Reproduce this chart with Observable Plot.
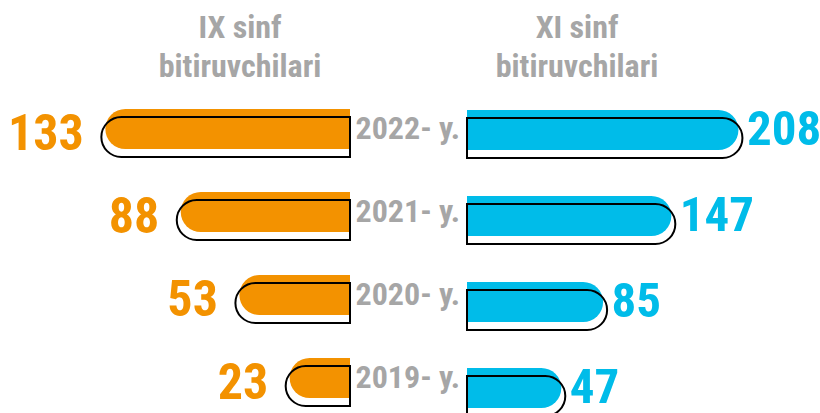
<!DOCTYPE html>
<html><head><meta charset="utf-8">
<script src="https://cdn.jsdelivr.net/npm/d3@7"></script>
<script src="https://cdn.jsdelivr.net/npm/@observablehq/plot@0.6"></script>
<style>
html,body{margin:0;padding:0;background:#fff;}
#chart{position:relative;width:820px;height:413px;overflow:hidden;font-family:"Roboto Condensed","Liberation Sans Narrow","Arial Narrow","DejaVu Sans Condensed",Roboto,sans-serif;font-weight:bold;}
.hdr{position:absolute;top:8px;width:300px;text-align:center;color:#a6a6a6;font-size:32px;line-height:39px;}
#chart svg{position:absolute;left:0;top:0;}
</style></head><body><div id="chart"></div>
<script>
const years = ["2022- y.", "2021- y.", "2020- y.", "2019- y."];
const ixValues = [133, 88, 53, 23];
const xiValues = [208, 147, 85, 47];
const headers = [["IX sinf", "bitiruvchilari"], ["XI sinf", "bitiruvchilari"]];

const ORANGE = "#f39200", CYAN = "#00bce9", GRAY = "#a6a6a6";
const FONT = '"Roboto Condensed","Liberation Sans Narrow","Arial Narrow","DejaVu Sans Condensed",Roboto,sans-serif';

const chart = document.getElementById("chart");
const hdrCenters = [240, 577];
headers.forEach((lines, i) => {
  const d = document.createElement("div");
  d.className = "hdr";
  d.style.left = (hdrCenters[i] - 150) + "px";
  d.innerHTML = lines.join("<br>");
  chart.appendChild(d);
});

const leftData = years.map((y, i) => ({year: y, value: ixValues[i]}));
const rightData = years.map((y, i) => ({year: y, value: xiValues[i]}));

const ixBase = -13, xiBase = -38.7;
const ixK = 1.6757, xiK = 1.1003;

const leftPlot = Plot.plot({
  width: 820, height: 413, margin: 0,
  style: {background: "transparent", fontFamily: FONT, overflow: "visible"},
  x: {domain: [ixBase, 150], range: [350, 350 - (150 - ixBase) * ixK], axis: null},
  y: {domain: years, range: [86.8, 420.2], paddingInner: 0.52, paddingOuter: 0.26, axis: null},
  marks: [
    Plot.barX(leftData, {x1: ixBase, x2: "value", y: "year", fill: ORANGE, rx1: 20}),
    Plot.barX(leftData, {x1: ixBase, x2: "value", y: "year", fill: "none", stroke: "black", strokeWidth: 2, rx1: 20, dy: 8, insetLeft: -4}),
    Plot.text(leftData, {x: "value", y: "year", text: d => String(d.value), textAnchor: "end", dx: -22, dy: 4, fill: ORANGE, fontSize: 50, fontWeight: "bold"}),
    Plot.text(leftData, {x: ixBase, y: "year", text: "year", textAnchor: "start", dx: 5, dy: -1, fill: GRAY, fontSize: 32, fontWeight: "bold"})
  ]
});

const rightPlot = Plot.plot({
  width: 820, height: 413, margin: 0,
  style: {background: "transparent", fontFamily: FONT},
  x: {domain: [xiBase, 230], range: [467, 467 + (230 - xiBase) * xiK], axis: null},
  y: {domain: years, range: [85.8, 431.3], paddingInner: 0.536, paddingOuter: 0.268, axis: null},
  marks: [
    Plot.barX(rightData, {x1: xiBase, x2: "value", y: "year", fill: CYAN, rx2: 20}),
    Plot.barX(rightData, {x1: xiBase, x2: "value", y: "year", fill: "none", stroke: "black", strokeWidth: 2, rx2: 20, dy: 8, insetRight: -4}),
    Plot.text(rightData, {x: "value", y: "year", text: d => String(d.value), textAnchor: "start", dx: 8, dy: -1, fill: CYAN, fontSize: 49, fontWeight: "bold"})
  ]
});

chart.appendChild(leftPlot);
chart.appendChild(rightPlot);
</script>
</body></html>
